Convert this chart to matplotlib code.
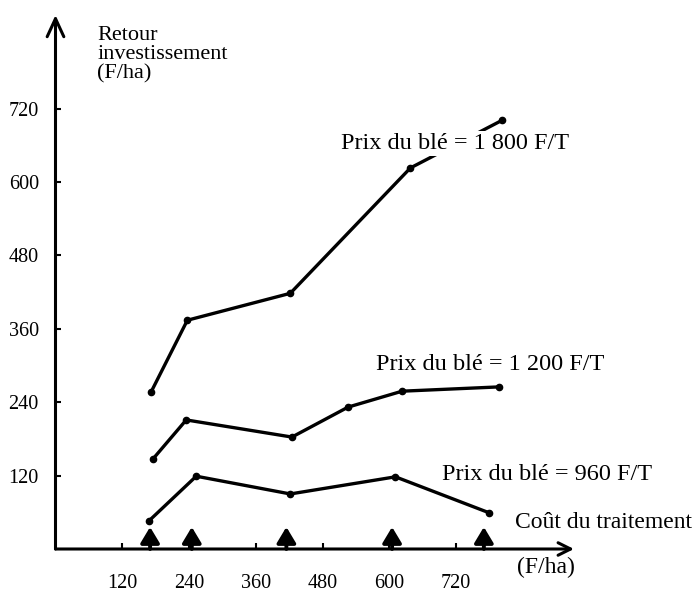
import matplotlib
matplotlib.use("Agg")
import matplotlib.pyplot as plt

# ---- data ----
treatment_cost = [170, 245, 415, 605, 770]          # upward arrows on the cost axis

x_1800 = [172, 237, 422, 638, 803]
y_1800 = [257, 374, 418, 623, 701]

x_1200 = [175, 235, 425, 526, 623, 797]
y_1200 = [147, 211, 183, 232, 258, 265]

x_960 = [168, 253, 422, 611, 780]
y_960 = [46, 119, 90, 118, 59]

x_ticks = [120, 240, 360, 480, 600, 720]
y_ticks = [120, 240, 360, 480, 600, 720]

label_1800 = "Prix du blé = 1 800 F/T"
label_1200 = "Prix du blé = 1 200 F/T"
label_960 = "Prix du blé = 960 F/T"
y_title = "Retour\ninvestissement\n(F/ha)"
x_title = "Coût du traitement"
x_unit = "(F/ha)"

# ---- figure ----
plt.rcParams["font.family"] = ["Liberation Serif", "DejaVu Serif"]

W, H = 697, 594
fig = plt.figure(figsize=(W / 100, H / 100), dpi=100)
fig.patch.set_facecolor("white")
ax = fig.add_axes([55.5 / W, 45 / H, 518.5 / W, 534 / H])
ax.set_xlim(0, 932)
ax.set_ylim(0, 873)
for s in ax.spines.values():
    s.set_visible(False)

# axes with arrow heads
ax.annotate("", xy=(1, 0), xytext=(0, 0), xycoords="axes fraction",
            arrowprops=dict(arrowstyle="->,head_length=0.9,head_width=0.45",
                            lw=2.2, color="black", shrinkA=0, shrinkB=0,
                            mutation_scale=10))
ax.annotate("", xy=(0, 1), xytext=(0, 0), xycoords="axes fraction",
            arrowprops=dict(arrowstyle="->,head_length=1.3,head_width=0.6",
                            lw=2.2, color="black", shrinkA=0, shrinkB=0,
                            mutation_scale=10))

ax.set_xticks(x_ticks)
ax.set_yticks(y_ticks)
ax.set_xticklabels([str(v) for v in x_ticks])
ax.set_yticklabels([str(v) for v in y_ticks])
ax.tick_params(axis="both", direction="in", length=4, width=1.5, labelsize=14.5,
               colors="black")
ax.tick_params(axis="x", pad=18)
ax.tick_params(axis="y", pad=12)

# curves
for xs, ys in [(x_1800, y_1800), (x_1200, y_1200), (x_960, y_960)]:
    ax.plot(xs, ys, color="black", lw=2.4, marker="o", ms=4.5,
            solid_capstyle="round", solid_joinstyle="round", clip_on=False,
            zorder=2)

# treatment arrows on the cost axis
for t in treatment_cost:
    ax.annotate("", xy=(t, 36), xytext=(t, 0),
                arrowprops=dict(arrowstyle="-|>,head_length=0.5,head_width=0.3",
                                lw=2.8, color="black", shrinkA=0, shrinkB=0,
                                mutation_scale=19),
                annotation_clip=False)

# texts (white backing so the curves break under them, as in the print)
box = dict(facecolor="white", edgecolor="none", pad=1.5)
ax.text(513, 663, label_1800, fontsize=17.5, va="center", ha="left", bbox=box,
        zorder=3)
ax.text(576, 301, label_1200, fontsize=17.5, va="center", ha="left", zorder=3)
ax.text(695, 121, label_960, fontsize=17.5, va="center", ha="left", zorder=3)
ax.text(75, 808, y_title, fontsize=16, va="center", ha="left",
        linespacing=1.0, clip_on=False)
ax.text(826, 44, x_title, fontsize=17, va="center", ha="left", clip_on=False)
ax.text(829, -30, x_unit, fontsize=17, va="center", ha="left", clip_on=False)

fig.savefig("out.png", dpi=100, facecolor="white")
